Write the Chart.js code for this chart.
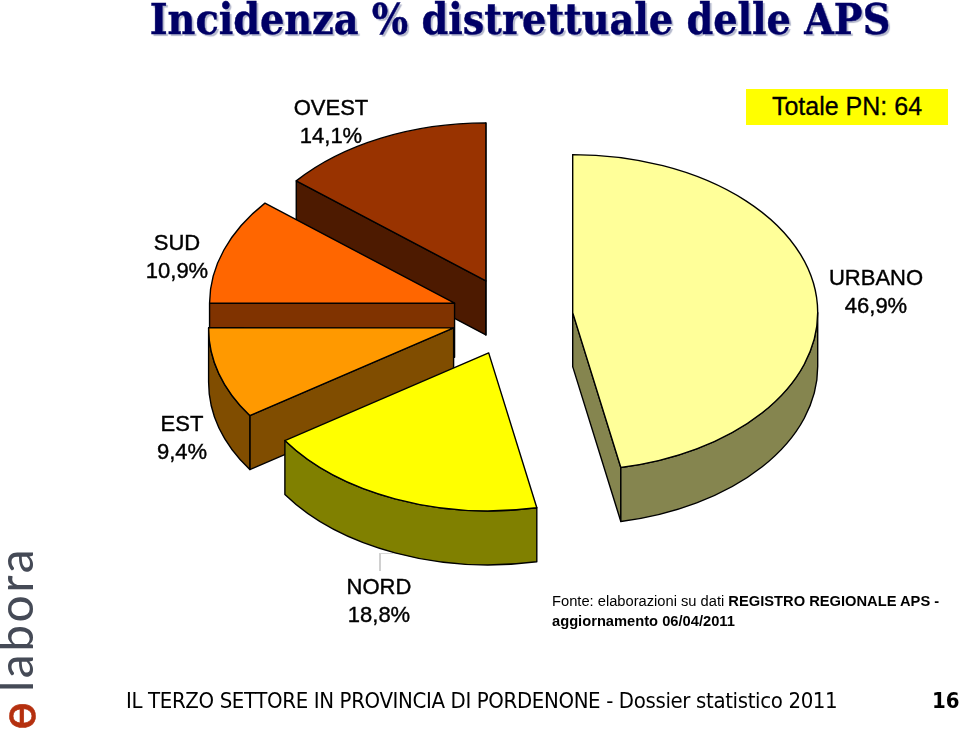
<!DOCTYPE html>
<html>
<head>
<meta charset="utf-8">
<script src="https://cdn.jsdelivr.net/npm/chart.js@4"></script>
<style>
	body { margin: 0; background: #fff; }
	#page { position: relative; width: 960px; height: 733px; overflow: hidden; }
	canvas { position: absolute; left: 0; top: 0; }
	.txt { position: absolute; white-space: nowrap; color: #000; }
	.lab { font: 22px/28px "Liberation Sans", sans-serif; text-align: center; width: 140px; -webkit-text-stroke: 0.4px #000; }
	#title { left: 0; width: 1040px; top: -6px; text-align: center; font: bold 42.5px/50px "DejaVu Serif Condensed", "DejaVu Serif", serif; color: #000066; text-shadow: 2px 2px 1px #b4b8cc; -webkit-text-stroke: 0.4px #000066; }
	#total { left: 746px; top: 89px; width: 202px; height: 36px; background: #ffff00; text-align: center; font: 25px/35px "Liberation Sans", sans-serif; -webkit-text-stroke: 0.3px #000; }
	#source { left: 552px; top: 591px; font: 14.7px/20px "Liberation Sans", sans-serif; }
	#footer { left: 126px; top: 687px; font: 22px/28px "DejaVu Sans Condensed", sans-serif; letter-spacing: -0.36px; }
	#pageno { left: 932px; top: 687px; font: bold 22px/28px "DejaVu Sans Condensed", sans-serif; }
	#callout { position: absolute; left: 379px; top: 553px; width: 13px; height: 17px; border-left: 2px solid #d0d0d0; border-top: 1px solid #d8d8d8; }
	#logo { left: -13px; top: 692px; transform-origin: 0 0; transform: rotate(-90deg); font: 48px/56px "Lato", sans-serif; color: #454a56; letter-spacing: 2.5px; }
	#mark { left: -9px; top: 730px; transform-origin: 0 0; transform: rotate(-90deg); font: 46px/56px "DejaVu Sans", sans-serif; color: #b5300f; -webkit-text-stroke: 0.6px #b5300f; }
</style>
</head>
<body>
<div id="page">
	<canvas id="pieChart" width="960" height="733"></canvas>
	<div id="title" class="txt">Incidenza % distrettuale delle APS</div>
	<div id="total" class="txt">Totale PN: 64</div>
	<div id="callout"></div>
	<div id="source" class="txt">Fonte: elaborazioni su dati <b>REGISTRO REGIONALE APS -<br>aggiornamento 06/04/2011</b></div>
	<div id="footer" class="txt">IL TERZO SETTORE IN PROVINCIA DI PORDENONE - Dossier statistico 2011</div>
	<div id="pageno" class="txt">16</div>
	<div id="logo" class="txt">labora</div>
	<div id="mark" class="txt">ɵ</div>
</div>

<script>
var categories = ['URBANO', 'NORD', 'EST', 'SUD', 'OVEST'];
var shares = [46.9, 18.8, 9.4, 10.9, 14.1];
var topColors = ['#ffff99', '#ffff00', '#ff9900', '#ff6600', '#993300'];
var wallColors = ['#85854f', '#808000', '#804d00', '#803300', '#4d1a00'];
// back to front
var drawOrder = [4, 3, 2, 0, 1];
// where each slice label sits, centre x / first line top
var labelX = [876, 379, 182, 177, 331];
var labelY = [264, 573, 410, 229, 94];

var tilt = 0.645;
var explode = 61;
var depth = 54;

var page = document.getElementById('page');
categories.forEach(function (name, i) {
	var el = document.createElement('div');
	el.className = 'txt lab';
	el.style.left = (labelX[i] - 70) + 'px';
	el.style.top = labelY[i] + 'px';
	el.innerHTML = name + '<br>' + shares[i].toFixed(1).replace('.', ',') + '%';
	page.appendChild(el);
});

// pie seen at an angle: squash it and pull the slices apart, wall under each slice
var pie3d = {
	id: 'pie3d',
	beforeDatasetDraw: function (chart) {
		var ctx = chart.ctx;
		var arcs = chart.getDatasetMeta(0).data;
		drawOrder.forEach(function (i) {
			var arc = arcs[i];
			var mid = (arc.startAngle + arc.endAngle) / 2;
			var ox = arc.x + Math.cos(mid) * explode;
			var oy = arc.y + Math.sin(mid) * explode * tilt;
			var r = arc.outerRadius;
			var px = function (a) { return ox + r * Math.cos(a); };
			var py = function (a) { return oy + r * tilt * Math.sin(a); };

			ctx.save();
			ctx.lineWidth = 1.4;
			ctx.lineJoin = 'round';
			ctx.strokeStyle = '#000';
			ctx.fillStyle = wallColors[i];

			// flat side walls, only the ones facing us
			[arc.startAngle, arc.endAngle].forEach(function (a, n) {
				var facing = n === 0 ? Math.cos(a) < 0.001 : Math.cos(a) > -0.001;
				if (!facing) return;
				ctx.beginPath();
				ctx.moveTo(ox, oy);
				ctx.lineTo(px(a), py(a));
				ctx.lineTo(px(a), py(a) + depth);
				ctx.lineTo(ox, oy + depth);
				ctx.closePath();
				ctx.fill();
				ctx.stroke();
			});

			// round wall, lower half of the ellipse only
			var a0 = Math.max(arc.startAngle, 0);
			var a1 = Math.min(arc.endAngle, Math.PI);
			if (a1 > a0) {
				ctx.beginPath();
				ctx.ellipse(ox, oy, r, r * tilt, 0, a0, a1);
				ctx.lineTo(px(a1), py(a1) + depth);
				ctx.ellipse(ox, oy + depth, r, r * tilt, 0, a1, a0, true);
				ctx.closePath();
				ctx.fill();
				ctx.stroke();
			}

			// top of the slice, drawn by the arc element itself
			ctx.save();
			ctx.translate(ox, oy);
			ctx.scale(1, tilt);
			ctx.translate(-arc.x, -arc.y);
			arc.draw(ctx);
			ctx.restore();

			ctx.beginPath();
			ctx.moveTo(ox, oy);
			ctx.ellipse(ox, oy, r, r * tilt, 0, arc.startAngle, arc.endAngle);
			ctx.closePath();
			ctx.stroke();
			ctx.restore();
		});
		return false;
	}
};

new Chart(document.getElementById('pieChart'), {
	type: 'pie',
	data: {
		labels: categories,
		datasets: [{
			data: shares,
			backgroundColor: topColors,
			borderWidth: 0,
			radius: 245
		}]
	},
	options: {
		responsive: false,
		animation: false,
		layout: { padding: { left: 64, bottom: 100 } },
		plugins: {
			legend: { display: false },
			tooltip: { enabled: false }
		}
	},
	plugins: [pie3d]
});
</script>
</body>
</html>
